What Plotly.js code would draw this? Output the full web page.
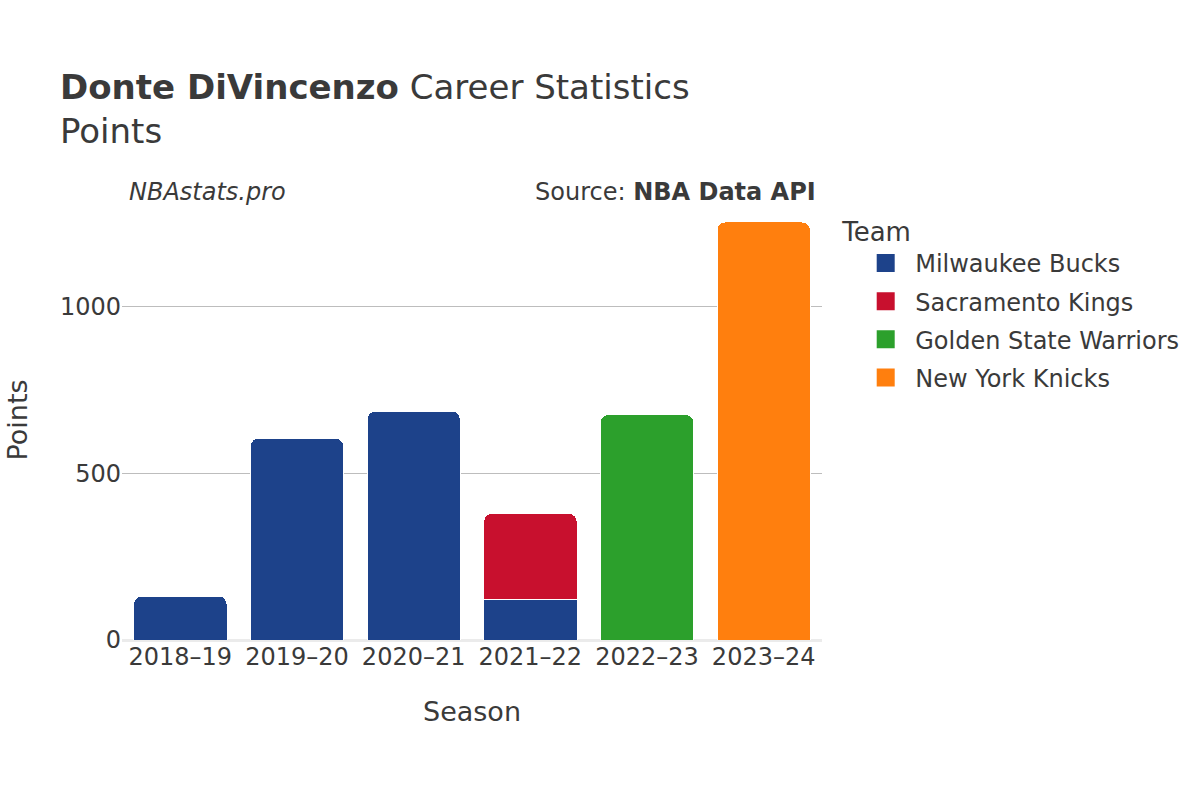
<!DOCTYPE html>
<html>
<head>
<meta charset="utf-8">
<script src="https://cdn.plot.ly/plotly-3.0.1.min.js"></script>
<style>html,body{margin:0;padding:0;background:#fff;}#chart{width:1200px;height:800px;}</style>
</head>
<body>
<div id="chart"></div>
<script>
const seasons = ["2018–19", "2019–20", "2020–21", "2021–22", "2022–23", "2023–24"];
const teams = ["Milwaukee Bucks", "Sacramento Kings", "Golden State Warriors", "New York Knicks"];
const teamColors = ["#1d428a", "#c8102e", "#2ca02c", "#ff7f0e"];
const bucksPts = [132, 606, 687, 123, null, null];
const kingsPts = [null, null, null, 257, null, null];
const warriorsPts = [null, null, null, null, 677, null];
const knicksPts = [null, null, null, null, null, 1255];
const seriesValues = [bucksPts, kingsPts, warriorsPts, knicksPts];
const yTicks = [0, 500, 1000];

const font = "DejaVu Sans, sans-serif";
const barTraces = teams.map((t, i) => ({
  type: "bar",
  name: t,
  legendgroup: "g" + i,
  showlegend: false,
  x: seasons,
  y: seriesValues[i],
  marker: {color: teamColors[i], line: {color: "#ffffff", width: 1}},
  hoverinfo: "x+y+name"
}));
// legend-only entries with larger square symbols
const legendTraces = teams.map((t, i) => ({
  type: "scatter",
  mode: "markers",
  name: t,
  legendgroup: "g" + i,
  x: [null],
  y: [null],
  marker: {color: teamColors[i], symbol: "square", size: 22, line: {color: teamColors[i], width: 2}},
  hoverinfo: "skip"
}));

const layout = {
  width: 1200, height: 800,
  paper_bgcolor: "#fff", plot_bgcolor: "#fff",
  font: {family: font, color: "#3a3a3a", size: 24},
  barmode: "stack",
  bargap: 0.2,
  barcornerradius: 8,
  margin: {l: 122, r: 378, t: 200, b: 160},
  title: {
    text: "<b>Donte DiVincenzo</b> Career Statistics<br>Points",
    font: {family: font, size: 34, color: "#3a3a3a"},
    xref: "container", x: 0.05, xanchor: "left",
    yref: "container", y: 0.876, yanchor: "top"
  },
  xaxis: {
    type: "category",
    categoryarray: seasons,
    title: {text: "Season", font: {size: 27}, standoff: 32},
    tickfont: {size: 24},
    showgrid: false,
    ticks: ""
  },
  yaxis: {
    range: [0, 1321],
    tickvals: yTicks,
    ticktext: yTicks.map(String),
    title: {text: "Points", font: {size: 27}, standoff: 24},
    tickfont: {size: 24},
    showgrid: true, gridcolor: "#bdbdbd", gridwidth: 1,
    zeroline: true, zerolinecolor: "#ebebeb", zerolinewidth: 3,
    ticks: ""
  },
  legend: {
    title: {text: "Team", font: {size: 26}},
    font: {size: 24},
    x: 1.026, xanchor: "left",
    y: 0.984, yanchor: "top",
    traceorder: "grouped",
    tracegroupgap: 4,
    indentation: 16,
    itemwidth: 49,
    itemsizing: "trace"
  },
  annotations: [
    {text: "<i>NBAstats.pro</i>", xref: "paper", yref: "paper", x: 0.007, y: 1.018,
     xanchor: "left", yanchor: "middle", showarrow: false, font: {size: 24, color: "#3a3a3a"}},
    {text: "Source: <b>NBA Data API</b>", xref: "paper", yref: "paper", x: 0.994, y: 1.018,
     xanchor: "right", yanchor: "middle", showarrow: false, font: {size: 24, color: "#3a3a3a"}}
  ],
  showlegend: true
};

Plotly.newPlot("chart", barTraces.concat(legendTraces), layout, {displayModeBar: false, staticPlot: true});
</script>
</body>
</html>
